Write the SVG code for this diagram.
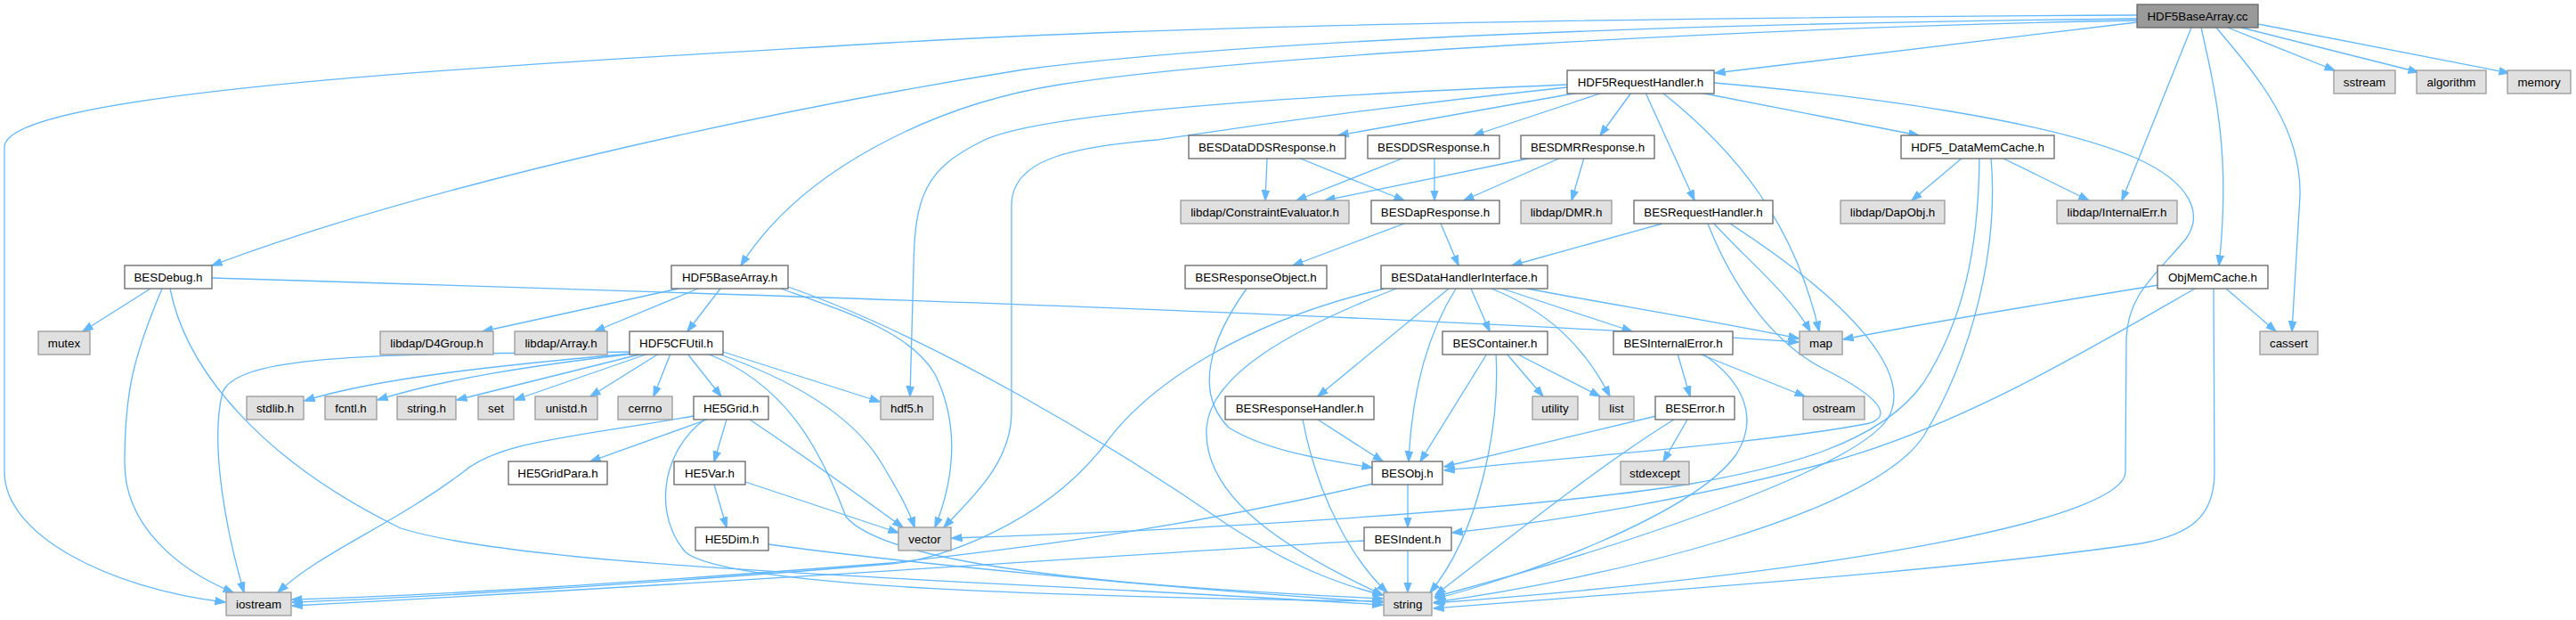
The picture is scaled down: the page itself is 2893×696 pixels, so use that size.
<svg xmlns="http://www.w3.org/2000/svg" width="2893" height="696" viewBox="0 0 2893 696">
<defs>
<style>
.node rect{fill:#ffffff;stroke:#666666;stroke-width:1.3}
.node.g rect{fill:#e0e0e0;stroke:#999999}
.node.root rect{fill:#999999;stroke:#666666}
.node text{font-family:"Liberation Sans",Arial,Helvetica,sans-serif;font-size:13.33px;fill:#000000;text-anchor:middle}
#edges path{fill:none;stroke:#63b8ff;stroke-width:1.3;marker-end:url(#arr)}
</style>
<marker id="arr" viewBox="0 0 12 10" refX="11.5" refY="5" markerWidth="12" markerHeight="10" markerUnits="userSpaceOnUse" orient="auto">
<path d="M0,0.8 L12,5 L0,9.2 Z" fill="#63b8ff" stroke="#63b8ff" stroke-width="1"/>
</marker>
</defs>
<rect x="0" y="0" width="2893" height="696" fill="#ffffff"/>
<g id="edges">
<path d="M2400,25 C2200,50 2050,68 1926,82"/>
<path d="M2400,21 C1900,26 1400,45 1150,78 C900,118 500,200 238,298"/>
<path d="M2400,23 C2000,30 1400,62 1190,95 C1050,117 900,190 832,298"/>
<path d="M2400,17 C1800,20 1300,30 1000,48 C600,72 5,100 5,165 L5,530 C5,600 120,660 253,676"/>
<path d="M2502,31 L2622,79"/>
<path d="M2517,31 L2716,81"/>
<path d="M2536,27 L2818,82"/>
<path d="M2461,31 L2383,225"/>
<path d="M2472,31 C2490,110 2505,180 2492,298"/>
<path d="M2489,31 C2530,80 2585,140 2583,220 L2574,372"/>
<path d="M1773,104 L1503,152"/>
<path d="M1800,104 L1655,152"/>
<path d="M1832,104 L1797,152"/>
<path d="M1848,104 L1903,225"/>
<path d="M1867,104 C1950,170 2015,250 2043,372"/>
<path d="M1909,104 L2155,152"/>
<path d="M1925,93 C2100,108 2300,135 2400,178 C2460,205 2475,240 2455,268 C2420,310 2390,330 2388,380 L2387,530 C2385,580 2100,640 1610,677"/>
<path d="M1760,95 C1400,110 1150,130 1100,160 C1040,190 1027,220 1026,300 L1022,445"/>
<path d="M1760,98 C1500,125 1350,150 1300,157 C1200,165 1136,180 1136,230 L1136,463 C1136,520 1090,560 1060,592"/>
<path d="M169,324 L93,372"/>
<path d="M182,324 C150,400 140,440 140,520 C140,590 200,640 262,665"/>
<path d="M191,324 C210,420 300,520 450,593 C600,640 1100,650 1553,679"/>
<path d="M238,312 C900,332 1600,355 2020,384"/>
<path d="M762,324 L542,372"/>
<path d="M784,324 L668,372"/>
<path d="M809,324 L772,372"/>
<path d="M877,324 C950,350 1023,373 1050,420 C1075,470 1075,530 1050,592"/>
<path d="M885,322 C1050,380 1250,500 1380,590 C1450,635 1500,655 1553,668"/>
<path d="M707,395 C450,398 270,395 250,440 C235,500 255,600 274,665"/>
<path d="M708,397 C560,410 420,425 342,450"/>
<path d="M712,397 C600,410 500,425 424,449"/>
<path d="M722,397 L513,449"/>
<path d="M728,397 L578,449"/>
<path d="M740,397 L663,445"/>
<path d="M753,397 L734,445"/>
<path d="M772,397 L810,445"/>
<path d="M812,395 L988,451"/>
<path d="M806,397 C900,430 960,470 990,520 C1005,545 1020,570 1027,592"/>
<path d="M794,397 C880,430 920,500 950,580 C1000,640 1300,660 1553,672"/>
<path d="M779,467 C650,490 560,495 520,530 C440,590 360,620 312,665"/>
<path d="M794,471 L663,518"/>
<path d="M816,471 L802,518"/>
<path d="M791,471 C740,510 735,580 770,620 C820,660 1200,670 1553,675"/>
<path d="M842,471 C900,510 970,560 1014,592"/>
<path d="M802,544 L816,592"/>
<path d="M837,541 L1009,598"/>
<path d="M863,611 C1000,630 1300,660 1553,676"/>
<path d="M1423,177 L1421,225"/>
<path d="M1458,177 L1577,225"/>
<path d="M1577,177 L1456,225"/>
<path d="M1611,177 L1611,225"/>
<path d="M1721,177 L1488,225"/>
<path d="M1753,177 L1644,225"/>
<path d="M1779,177 L1765,225"/>
<path d="M1577,251 L1452,298"/>
<path d="M1618,251 L1638,298"/>
<path d="M1867,251 L1698,298"/>
<path d="M1925,251 C1960,290 2010,330 2033,372"/>
<path d="M1918,251 C1945,320 1990,385 2050,415 C2100,440 2130,465 2100,475 C2000,495 1800,510 1622,528"/>
<path d="M1943,251 C2080,340 2150,420 2120,470 C2080,530 1800,620 1611,670"/>
<path d="M1400,324 C1360,380 1340,440 1380,480 C1420,505 1480,515 1541,525"/>
<path d="M1555,324 C1400,360 1290,430 1240,500 C1170,590 1050,630 1000,633 C800,650 500,670 328,676"/>
<path d="M1568,324 C1450,370 1360,420 1355,480 C1350,560 1450,620 1553,668"/>
<path d="M1627,324 L1480,445"/>
<path d="M1635,324 C1600,380 1585,450 1582,518"/>
<path d="M1652,324 L1673,372"/>
<path d="M1675,324 C1740,350 1780,390 1808,445"/>
<path d="M1687,324 L1833,372"/>
<path d="M1715,324 C1800,340 1950,365 2020,380"/>
<path d="M1670,397 L1595,518"/>
<path d="M1680,397 C1685,480 1660,600 1606,665"/>
<path d="M1692,397 L1733,445"/>
<path d="M1703,397 L1797,445"/>
<path d="M1884,397 L1898,445"/>
<path d="M1908,397 L2027,445"/>
<path d="M1912,397 C1960,430 1975,470 1950,510 C1900,580 1700,650 1612,672"/>
<path d="M1860,467 L1622,524"/>
<path d="M1880,471 C1800,520 1700,600 1612,668"/>
<path d="M1895,471 L1868,518"/>
<path d="M1480,471 L1553,518"/>
<path d="M1463,471 C1480,560 1520,630 1558,665"/>
<path d="M1581,544 L1581,592"/>
<path d="M1542,543 C1300,600 1100,620 1000,632 C700,655 500,668 328,673"/>
<path d="M1532,607 C1300,620 900,650 328,680"/>
<path d="M1581,617 L1581,665"/>
<path d="M2424,320 C2300,340 2150,365 2070,381"/>
<path d="M2465,324 C2350,390 2200,480 2050,520 C1900,560 1750,585 1631,598"/>
<path d="M2486,324 L2487,530 C2487,580 2460,600 2405,610 C2200,640 1900,660 1610,683"/>
<path d="M2500,324 L2556,372"/>
<path d="M2204,177 L2147,225"/>
<path d="M2248,177 L2346,225"/>
<path d="M2223,177 C2222,280 2205,360 2160,430 C2110,500 2000,525 1900,543 C1700,575 1300,597 1069,604"/>
<path d="M2236,177 C2245,280 2215,400 2160,490 C2100,580 1800,650 1611,676"/>
</g>
<g id="n_cc" class="node root"><rect x="2400" y="5" width="136" height="26"/><text x="2468" y="22.7">HDF5BaseArray.cc</text></g>
<g id="n_hrh" class="node"><rect x="1760" y="79" width="165" height="26"/><text x="1842.5" y="96.7">HDF5RequestHandler.h</text></g>
<g id="n_sstream" class="node g"><rect x="2621" y="79" width="69" height="26"/><text x="2655.5" y="96.7">sstream</text></g>
<g id="n_algorithm" class="node g"><rect x="2714" y="79" width="78" height="26"/><text x="2753" y="96.7">algorithm</text></g>
<g id="n_memory" class="node g"><rect x="2816" y="79" width="71" height="26"/><text x="2851.5" y="96.7">memory</text></g>
<g id="n_ddds" class="node"><rect x="1335" y="152" width="176" height="26"/><text x="1423" y="169.7">BESDataDDSResponse.h</text></g>
<g id="n_dds" class="node"><rect x="1536" y="152" width="148" height="26"/><text x="1610" y="169.7">BESDDSResponse.h</text></g>
<g id="n_dmr" class="node"><rect x="1708" y="152" width="150" height="26"/><text x="1783" y="169.7">BESDMRResponse.h</text></g>
<g id="n_h5dmc" class="node"><rect x="2135" y="152" width="172" height="26"/><text x="2221" y="169.7">HDF5_DataMemCache.h</text></g>
<g id="n_ce" class="node g"><rect x="1326" y="225" width="189" height="26"/><text x="1420.5" y="242.7">libdap/ConstraintEvaluator.h</text></g>
<g id="n_dapr" class="node"><rect x="1540" y="225" width="144" height="26"/><text x="1612" y="242.7">BESDapResponse.h</text></g>
<g id="n_libdmr" class="node g"><rect x="1708" y="225" width="102" height="26"/><text x="1759" y="242.7">libdap/DMR.h</text></g>
<g id="n_brh" class="node"><rect x="1835" y="225" width="156" height="26"/><text x="1913" y="242.7">BESRequestHandler.h</text></g>
<g id="n_dapobj" class="node g"><rect x="2067" y="225" width="117" height="26"/><text x="2125.5" y="242.7">libdap/DapObj.h</text></g>
<g id="n_ierr" class="node g"><rect x="2310" y="225" width="135" height="26"/><text x="2377.5" y="242.7">libdap/InternalErr.h</text></g>
<g id="n_besdebug" class="node"><rect x="140" y="298" width="98" height="26"/><text x="189" y="315.7">BESDebug.h</text></g>
<g id="n_hba" class="node"><rect x="754" y="298" width="131" height="26"/><text x="819.5" y="315.7">HDF5BaseArray.h</text></g>
<g id="n_ro" class="node"><rect x="1331" y="298" width="159" height="26"/><text x="1410.5" y="315.7">BESResponseObject.h</text></g>
<g id="n_dhi" class="node"><rect x="1551" y="298" width="187" height="26"/><text x="1644.5" y="315.7">BESDataHandlerInterface.h</text></g>
<g id="n_omc" class="node"><rect x="2423" y="298" width="124" height="26"/><text x="2485" y="315.7">ObjMemCache.h</text></g>
<g id="n_mutex" class="node g"><rect x="43" y="372" width="58" height="26"/><text x="72" y="389.7">mutex</text></g>
<g id="n_d4g" class="node g"><rect x="427" y="372" width="127" height="26"/><text x="490.5" y="389.7">libdap/D4Group.h</text></g>
<g id="n_arr" class="node g"><rect x="578" y="372" width="104" height="26"/><text x="630" y="389.7">libdap/Array.h</text></g>
<g id="n_cfu" class="node"><rect x="707" y="372" width="105" height="26"/><text x="759.5" y="389.7">HDF5CFUtil.h</text></g>
<g id="n_cont" class="node"><rect x="1620" y="372" width="118" height="26"/><text x="1679" y="389.7">BESContainer.h</text></g>
<g id="n_bie" class="node"><rect x="1812" y="372" width="134" height="26"/><text x="1879" y="389.7">BESInternalError.h</text></g>
<g id="n_map" class="node g"><rect x="2021" y="372" width="48" height="26"/><text x="2045" y="389.7">map</text></g>
<g id="n_cassert" class="node g"><rect x="2538" y="372" width="65" height="26"/><text x="2570.5" y="389.7">cassert</text></g>
<g id="n_stdlib" class="node g"><rect x="277" y="445" width="64" height="26"/><text x="309" y="462.7">stdlib.h</text></g>
<g id="n_fcntl" class="node g"><rect x="365" y="445" width="58" height="26"/><text x="394" y="462.7">fcntl.h</text></g>
<g id="n_stringh" class="node g"><rect x="446" y="445" width="66" height="26"/><text x="479" y="462.7">string.h</text></g>
<g id="n_set" class="node g"><rect x="537" y="445" width="40" height="26"/><text x="557" y="462.7">set</text></g>
<g id="n_unistd" class="node g"><rect x="601" y="445" width="70" height="26"/><text x="636" y="462.7">unistd.h</text></g>
<g id="n_cerrno" class="node g"><rect x="694" y="445" width="61" height="26"/><text x="724.5" y="462.7">cerrno</text></g>
<g id="n_he5grid" class="node"><rect x="779" y="445" width="84" height="26"/><text x="821" y="462.7">HE5Grid.h</text></g>
<g id="n_hdf5" class="node g"><rect x="989" y="445" width="59" height="26"/><text x="1018.5" y="462.7">hdf5.h</text></g>
<g id="n_rh" class="node"><rect x="1376" y="445" width="167" height="26"/><text x="1459.5" y="462.7">BESResponseHandler.h</text></g>
<g id="n_utility" class="node g"><rect x="1721" y="445" width="51" height="26"/><text x="1746.5" y="462.7">utility</text></g>
<g id="n_list" class="node g"><rect x="1796" y="445" width="39" height="26"/><text x="1815.5" y="462.7">list</text></g>
<g id="n_beserror" class="node"><rect x="1859" y="445" width="89" height="26"/><text x="1903.5" y="462.7">BESError.h</text></g>
<g id="n_ostream" class="node g"><rect x="2025" y="445" width="69" height="26"/><text x="2059.5" y="462.7">ostream</text></g>
<g id="n_he5gp" class="node"><rect x="571" y="518" width="111" height="26"/><text x="626.5" y="535.7">HE5GridPara.h</text></g>
<g id="n_he5var" class="node"><rect x="757" y="518" width="80" height="26"/><text x="797" y="535.7">HE5Var.h</text></g>
<g id="n_besobj" class="node"><rect x="1541" y="518" width="79" height="26"/><text x="1580.5" y="535.7">BESObj.h</text></g>
<g id="n_stdexcept" class="node g"><rect x="1820" y="518" width="77" height="26"/><text x="1858.5" y="535.7">stdexcept</text></g>
<g id="n_he5dim" class="node"><rect x="781" y="592" width="82" height="26"/><text x="822" y="609.7">HE5Dim.h</text></g>
<g id="n_vector" class="node g"><rect x="1009" y="592" width="59" height="26"/><text x="1038.5" y="609.7">vector</text></g>
<g id="n_indent" class="node"><rect x="1532" y="592" width="98" height="26"/><text x="1581" y="609.7">BESIndent.h</text></g>
<g id="n_iostream" class="node g"><rect x="254" y="665" width="73" height="26"/><text x="290.5" y="682.7">iostream</text></g>
<g id="n_string" class="node g"><rect x="1554" y="665" width="54" height="26"/><text x="1581" y="682.7">string</text></g>
</svg>
